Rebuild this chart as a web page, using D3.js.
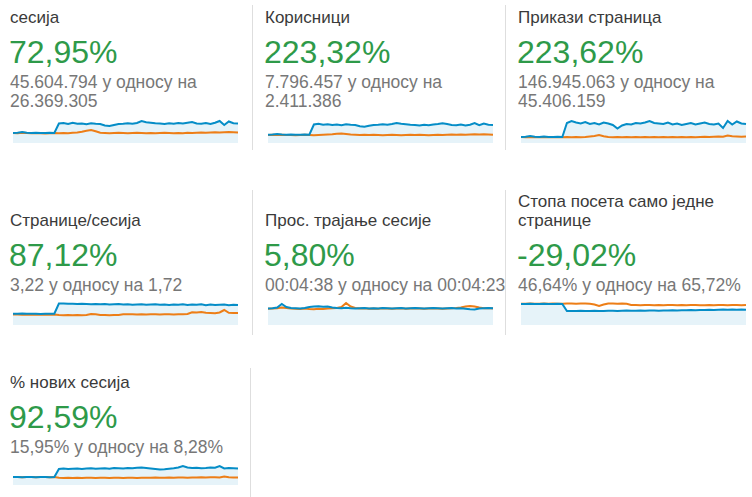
<!DOCTYPE html>
<html lang="sr">
<head>
<meta charset="utf-8">
<title>Преглед метрика</title>
<script src="https://d3js.org/d3.v7.min.js"></script>
<style>
  body { margin: 0; background: #fff; }
  text { font-family: "Liberation Sans", Arial, sans-serif; }
  .title { font-size: 17px; fill: #3a3a3a; }
  .change { font-size: 32px; fill: #2e9a49; }
  .sub { font-size: 17.5px; fill: #777; }
</style>
</head>
<body>
<script>
// metric names, change and compared values
var titles = ["сесија", "Корисници", "Прикази страница", "Странице/сесија",
              "Прос. трајање сесије", "Стопа посета само једне странице", "% нових сесија"];
var changes = ["72,95%", "223,32%", "223,62%", "87,12%", "5,80%", "-29,02%", "92,59%"];
var current = ["45.604.794", "7.796.457", "146.945.063", "3,22", "00:04:38", "46,64%", "15,95%"];
var previous = ["26.369.305", "2.411.386", "45.406.159", "1,72", "00:04:23", "65,72%", "8,28%"];

// sparklines (relative level, 0-100), blue = this period, orange = previous period
var blue1 = [40,41,44,41,40,41,40,40,41,40, 78,80,76,81,77,78,75,79,77,76, 70,68,72,76,77,79,77,80,88,83, 81,79,78,76,79,77,80,78,81,84, 78,77,80,76,81,88,72,86,79,78];
var orange1 = [40,39,41,40,39,40,39,38,39,40, 39,40,39,41,42,45,49,52,47,41, 40,39,40,41,40,39,40,41,40,39, 40,39,40,41,40,39,40,39,41,40, 41,42,41,42,43,42,43,44,43,42];
var blue2 = [33,34,36,34,33,34,33,33,34,33, 74,77,73,75,72,74,71,75,73,72, 67,65,69,72,73,75,73,76,80,77, 75,73,72,70,73,71,74,76,79,76, 72,71,74,70,73,80,71,78,73,72];
var orange2 = [32,33,32,33,32,32,31,32,33,32, 31,32,33,34,35,37,38,36,34,33, 32,33,32,33,32,31,32,33,32,31, 32,33,32,33,32,31,32,33,32,33, 34,33,34,33,34,35,34,35,34,33];
var blue3 = [24,25,28,25,24,26,24,24,25,24, 80,88,82,78,84,76,80,74,82,78, 72,58,70,76,74,80,78,82,88,80, 78,76,82,74,78,72,76,80,74,78, 82,76,74,78,60,88,74,86,78,76];
var orange3 = [24,23,24,23,24,23,24,23,24,23, 24,23,24,23,24,26,28,32,27,24, 23,24,23,24,23,24,23,24,23,24, 23,24,23,24,23,24,23,24,23,24, 25,24,25,26,25,30,27,26,25,26];
var blue4 = [45,45,46,45,45,45,44,45,45,45, 86,86,85,85,84,85,84,83,84,83, 84,82,83,84,82,83,81,82,83,81, 82,83,81,82,80,82,81,83,80,82, 81,83,79,82,80,81,82,79,81,80];
var orange4 = [42,42,41,42,41,41,42,41,41,42, 40,39,40,39,40,39,40,44,43,40, 40,39,40,40,43,43,43,42,43,42, 43,43,42,43,43,42,43,43,44,51, 50,52,49,48,47,50,60,49,48,48];
var blue5 = [66,67,70,84,72,68,67,66,68,72, 74,75,73,74,70,68,67,69,67,66, 67,68,66,67,66,68,67,66,67,68, 66,67,68,67,66,67,68,67,66,67, 68,66,67,65,63,62,66,67,68,67];
var orange5 = [65,66,67,70,68,66,65,64,66,64, 63,65,64,66,67,68,72,88,74,68, 66,67,65,66,65,67,66,65,66,67, 65,66,67,66,65,66,67,66,65,66, 67,68,70,74,76,74,70,67,68,66];
var blue6 = [84,84,85,84,84,85,84,84,85,84, 56,56,56,57,56,56,57,56,56,57, 57,56,57,58,57,57,58,57,58,58, 57,58,58,59,58,59,59,60,59,60, 60,61,60,61,62,61,62,61,62,61];
var orange6 = [85,85,86,85,85,86,85,86,85,85, 86,86,85,86,86,85,82,76,82,86, 86,85,86,85,80,80,79,80,80,79, 80,79,80,80,79,80,79,80,80,79, 79,80,79,80,80,79,80,80,79,80];
var blue7 = [32,32,31,32,32,31,32,32,31,32, 64,66,64,65,66,64,66,67,65,66, 67,65,68,67,66,68,67,69,70,68, 66,64,62,63,65,67,70,76,70,68, 69,67,68,70,69,76,66,68,67,66];
var orange7 = [32,32,31,32,32,31,32,32,31,32, 29,28,29,28,29,28,29,29,28,29, 29,28,29,29,28,29,29,28,29,29, 29,30,29,29,30,29,30,30,29,30, 30,31,30,31,31,30,34,31,30,30];

var blues = [blue1, blue2, blue3, blue4, blue5, blue6, blue7];
var oranges = [orange1, orange2, orange3, orange4, orange5, orange6, orange7];

// layout
var w = 752, h = 497;
var colX = [10, 265, 518];
var titleBase = [23, 226, 388];
var sparkBox = [[118, 143], [300, 325], [460, 485]];
var wrapWidth = 242;
var sparkW = 225;

var svg = d3.select("body").append("svg")
    .attr("width", w)
    .attr("height", h);

// column separators
var seps = [[252.5, 5, 150], [505.5, 5, 150], [252.5, 190, 335], [505.5, 190, 335], [250.5, 368, 497]];
svg.selectAll("line.sep").data(seps).enter().append("line")
    .attr("class", "sep")
    .attr("x1", function(d){ return d[0]; })
    .attr("x2", function(d){ return d[0]; })
    .attr("y1", function(d){ return d[1]; })
    .attr("y2", function(d){ return d[2]; })
    .attr("stroke", "#dedede")
    .attr("stroke-width", 1);

// break a string into lines that fit the width
function wrapLines(str, cls) {
    var probe = svg.append("text").attr("class", cls);
    var words = str.split(" ");
    var lines = [];
    var line = words[0];
    for (var i = 1; i < words.length; i++) {
        probe.text(line + " " + words[i]);
        if (probe.node().getComputedTextLength() > wrapWidth) {
            lines.push(line);
            line = words[i];
        } else {
            line = line + " " + words[i];
        }
    }
    lines.push(line);
    probe.remove();
    return lines;
}

var x = d3.scaleLinear().domain([0, blue1.length - 1]).range([0, sparkW]);

titles.forEach(function(t, i) {
    var row = Math.floor(i / 3), col = i % 3;
    var g = svg.append("g").attr("transform", "translate(" + colX[col] + ",0)");
    var tb = titleBase[row];

    // title, extra lines stack upwards
    var tl = wrapLines(t, "title");
    g.selectAll("text.title").data(tl).enter().append("text")
        .attr("class", "title")
        .attr("x", 0)
        .attr("y", function(d, k){ return tb - (tl.length - 1 - k) * 19; })
        .text(function(d){ return d; });

    g.append("text")
        .attr("class", "change")
        .attr("x", -1)
        .attr("y", tb + 39.5)
        .text(changes[i]);

    var sl = wrapLines(current[i] + " у односу на " + previous[i], "sub");
    g.selectAll("text.sub").data(sl).enter().append("text")
        .attr("class", "sub")
        .attr("x", 0)
        .attr("y", function(d, k){ return tb + 64.5 + k * 19; })
        .text(function(d){ return d; });

    // sparkline
    var box = sparkBox[row];
    var y = d3.scaleLinear().domain([0, 100]).range([box[1], box[0]]);
    var sg = g.append("g").attr("transform", "translate(3,0)");

    var area = d3.area()
        .x(function(d, k){ return x(k); })
        .y0(y(0))
        .y1(function(d){ return y(d); });
    var line = d3.line()
        .x(function(d, k){ return x(k); })
        .y(function(d){ return y(d); });

    sg.append("path")
        .attr("d", area(blues[i]))
        .attr("fill", "#058dc7")
        .attr("fill-opacity", 0.1);
    sg.append("path")
        .attr("d", line(oranges[i]))
        .attr("fill", "none")
        .attr("stroke", "#ed7e17")
        .attr("stroke-width", 2);
    sg.append("path")
        .attr("d", line(blues[i]))
        .attr("fill", "none")
        .attr("stroke", "#058dc7")
        .attr("stroke-width", 2);
});
</script>
</body>
</html>
